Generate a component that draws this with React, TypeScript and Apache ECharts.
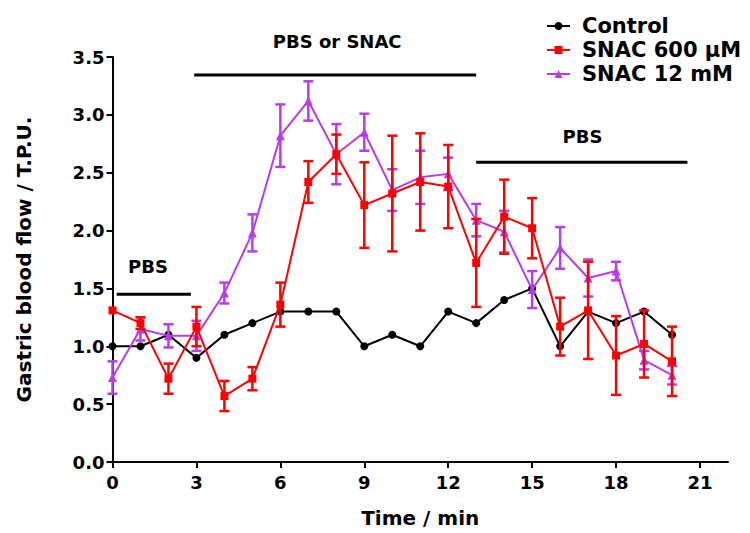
import { useEffect, useRef } from "react";
import * as echarts from "echarts";

// Time points (min)
const time = [0, 1, 2, 3, 4, 5, 6, 7, 8, 9, 10, 11, 12, 13, 14, 15, 16, 17, 18, 19, 20];

// Series values
const control = [1.0, 1.0, 1.1, 0.9, 1.1, 1.2, 1.3, 1.3, 1.3, 1.0, 1.1, 1.0, 1.3, 1.2, 1.4, 1.5, 1.0, 1.3, 1.2, 1.3, 1.1];
const snac600 = [1.31, 1.2, 0.72, 1.17, 0.57, 0.72, 1.36, 2.42, 2.66, 2.22, 2.32, 2.42, 2.38, 1.72, 2.12, 2.02, 1.17, 1.31, 0.92, 1.02, 0.87];
const snac600Err = [0, 0.05, 0.13, 0.17, 0.13, 0.1, 0.19, 0.18, 0.17, 0.37, 0.5, 0.42, 0.36, 0.38, 0.32, 0.26, 0.25, 0.42, 0.34, 0.29, 0.3];
const snac12 = [0.73, 1.15, 1.09, 1.09, 1.46, 1.98, 2.82, 3.12, 2.66, 2.85, 2.35, 2.46, 2.49, 2.09, 1.99, 1.49, 1.85, 1.59, 1.65, 0.88, 0.75];
const snac12Err = [0.14, 0.1, 0.1, 0.13, 0.09, 0.16, 0.27, 0.17, 0.26, 0.16, 0.18, 0.23, 0.14, 0.14, 0.18, 0.16, 0.18, 0.16, 0.08, 0.08, 0.08];

// Tick labels
const xTicks = [0, 3, 6, 9, 12, 15, 18, 21];

// Treatment annotations (in data units)
const annotLabels = ["PBS", "PBS or SNAC", "PBS"];
const annotStart = [0.15, 2.92, 13.0];
const annotEnd = [2.8, 13.0, 20.55];
const annotLevel = [1.45, 3.345, 2.59];
const annotTextX = [1.27, 8.03, 16.8];
const annotTextY = [1.69, 3.63, 2.81];

const seriesNames = ["Control", "SNAC 600 \u00b5M", "SNAC 12 mM"];
const colors = ["#000000", "#ff0000", "#b83ce8"];

const FONT = "DejaVu Sans";

function errRender(color: string) {
  return (params: any, api: any) => {
    const x = api.value(0);
    const y = api.value(1);
    const e = api.value(2);
    if (!e) return { type: "group", children: [] };
    const top = api.coord([x, y + e]);
    const bot = api.coord([x, y - e]);
    const w = 5;
    const st = { stroke: color, lineWidth: 2.5 };
    return {
      type: "group",
      children: [
        { type: "line", shape: { x1: top[0], y1: top[1], x2: bot[0], y2: bot[1] }, style: st },
        { type: "line", shape: { x1: top[0] - w, y1: top[1], x2: top[0] + w, y2: top[1] }, style: st },
        { type: "line", shape: { x1: bot[0] - w, y1: bot[1], x2: bot[0] + w, y2: bot[1] }, style: st },
      ],
    };
  };
}

function annotRender(params: any, api: any) {
  const i = params.dataIndex;
  const p0 = api.coord([api.value(0), api.value(2)]);
  const p1 = api.coord([api.value(1), api.value(2)]);
  const pt = api.coord([api.value(3), api.value(4)]);
  return {
    type: "group",
    children: [
      {
        type: "line",
        shape: { x1: p0[0], y1: p0[1], x2: p1[0], y2: p1[1] },
        style: { stroke: "#000", lineWidth: 3 },
      },
      {
        type: "text",
        x: pt[0],
        y: pt[1],
        style: {
          text: annotLabels[i],
          fill: "#000",
          font: `bold 18px "${FONT}"`,
          textAlign: "center",
          textVerticalAlign: "middle",
          align: "center",
          verticalAlign: "middle",
        },
      },
    ],
  };
}

export default function App() {
  const ref = useRef<HTMLDivElement>(null);

  useEffect(() => {
    const chart = echarts.init(ref.current!, null, { renderer: "svg" });
    const axisText = { color: "#000", fontFamily: FONT, fontWeight: "bold" as const, fontSize: 18 };
    const option: any = {
      animation: false,
      backgroundColor: "#ffffff",
      grid: { left: 112.5, right: 22, top: 57, bottom: 68, containLabel: false },
      legend: {
        data: seriesNames,
        orient: "vertical",
        left: 541,
        top: 10,
        itemWidth: 23,
        itemHeight: 10,
        itemGap: 2,
        textStyle: {
          color: "#000",
          fontFamily: FONT,
          fontWeight: "bold",
          fontSize: 21,
          lineHeight: 22,
          padding: [0, 0, 0, 7],
        },
      },
      xAxis: {
        type: "value",
        min: 0,
        max: 22,
        interval: 3,
        name: "Time / min",
        nameLocation: "middle",
        nameGap: 46,
        nameTextStyle: { ...axisText, fontSize: 20 },
        axisLine: { show: true, lineStyle: { color: "#000", width: 2 } },
        axisTick: { show: true, length: 6, lineStyle: { color: "#000", width: 2 }, customValues: xTicks },
        axisLabel: {
          ...axisText,
          margin: 11,
          customValues: xTicks,
          formatter: (v: number) => (v > 21 ? "" : String(v)),
        },
        splitLine: { show: false },
      },
      yAxis: {
        type: "value",
        min: 0,
        max: 3.5,
        interval: 0.5,
        name: "Gastric blood flow / T.P.U.",
        nameLocation: "middle",
        nameGap: 79,
        nameTextStyle: { ...axisText, fontSize: 20 },
        axisLine: { show: true, lineStyle: { color: "#000", width: 2 } },
        axisTick: { show: true, length: 6, lineStyle: { color: "#000", width: 2 } },
        axisLabel: { ...axisText, margin: 8, formatter: (v: number) => v.toFixed(1) },
        splitLine: { show: false },
      },
      series: [
        {
          type: "custom",
          name: "annotations",
          renderItem: annotRender,
          clip: false,
          silent: true,
          data: annotLabels.map((_, i) => [annotStart[i], annotEnd[i], annotLevel[i], annotTextX[i], annotTextY[i]]),
          z: 1,
        },
        {
          type: "line",
          name: seriesNames[0],
          data: time.map((t, i) => [t, control[i]]),
          symbol: "circle",
          symbolSize: 8,
          color: colors[0],
          lineStyle: { width: 2, color: colors[0] },
          itemStyle: { color: colors[0] },
          z: 2,
        },
        {
          type: "custom",
          name: seriesNames[2] + " err",
          renderItem: errRender(colors[2]),
          data: time.map((t, i) => [t, snac12[i], snac12Err[i]]),
          z: 3,
        },
        {
          type: "line",
          name: seriesNames[2],
          data: time.map((t, i) => [t, snac12[i]]),
          symbol: "triangle",
          symbolSize: 9,
          color: colors[2],
          lineStyle: { width: 2, color: colors[2] },
          itemStyle: { color: colors[2] },
          z: 3,
        },
        {
          type: "custom",
          name: seriesNames[1] + " err",
          renderItem: errRender(colors[1]),
          data: time.map((t, i) => [t, snac600[i], snac600Err[i]]),
          z: 4,
        },
        {
          type: "line",
          name: seriesNames[1],
          data: time.map((t, i) => [t, snac600[i]]),
          symbol: "rect",
          symbolSize: 8,
          color: colors[1],
          lineStyle: { width: 2, color: colors[1] },
          itemStyle: { color: colors[1] },
          z: 4,
        },
      ],
    };
    chart.setOption(option);
    return () => chart.dispose();
  }, []);

  return (
    <div
      ref={ref}
      style={{ position: "fixed", left: 0, top: 0, width: 750, height: 533, background: "#fff" }}
    />
  );
}
